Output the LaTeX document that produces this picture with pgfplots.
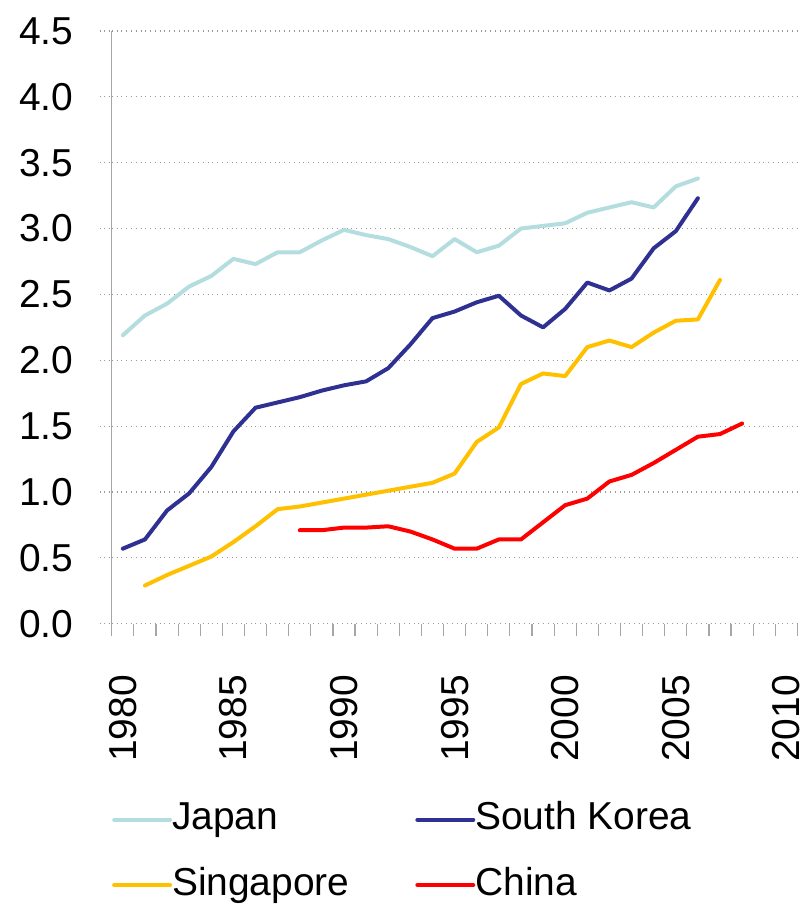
\documentclass[border=0pt]{standalone}
\usepackage{fontspec}
\setmainfont{Liberation Sans}
\usepackage{pgfplots}
\pgfplotsset{compat=1.18}

\definecolor{japan}{HTML}{B4DDE0}
\definecolor{korea}{HTML}{2E3192}
\definecolor{singapore}{HTML}{FFC000}
\definecolor{china}{HTML}{FF0000}

\pgfplotstableread{
year val
1980 2.19
1981 2.34
1982 2.43
1983 2.56
1984 2.64
1985 2.77
1986 2.73
1987 2.82
1988 2.82
1989 2.91
1990 2.99
1991 2.95
1992 2.92
1993 2.86
1994 2.79
1995 2.92
1996 2.82
1997 2.87
1998 3.00
1999 3.02
2000 3.04
2001 3.12
2002 3.16
2003 3.20
2004 3.16
2005 3.32
2006 3.38
}\japan

\pgfplotstableread{
year val
1980 0.57
1981 0.64
1982 0.86
1983 0.99
1984 1.19
1985 1.46
1986 1.64
1987 1.68
1988 1.72
1989 1.77
1990 1.81
1991 1.84
1992 1.94
1993 2.12
1994 2.32
1995 2.37
1996 2.44
1997 2.49
1998 2.34
1999 2.25
2000 2.39
2001 2.59
2002 2.53
2003 2.62
2004 2.85
2005 2.98
2006 3.23
}\korea

\pgfplotstableread{
year val
1981 0.29
1982 0.37
1983 0.44
1984 0.51
1985 0.62
1986 0.74
1987 0.87
1988 0.89
1989 0.92
1990 0.95
1991 0.98
1992 1.01
1993 1.04
1994 1.07
1995 1.14
1996 1.38
1997 1.49
1998 1.82
1999 1.90
2000 1.88
2001 2.10
2002 2.15
2003 2.10
2004 2.21
2005 2.30
2006 2.31
2007 2.61
}\singapore

\pgfplotstableread{
year val
1988 0.71
1989 0.71
1990 0.73
1991 0.73
1992 0.74
1993 0.70
1994 0.64
1995 0.57
1996 0.57
1997 0.64
1998 0.64
1999 0.77
2000 0.90
2001 0.95
2002 1.08
2003 1.13
2004 1.22
2005 1.32
2006 1.42
2007 1.44
2008 1.52
}\china

\begin{document}
\begin{tikzpicture}
\begin{axis}[
    scale only axis,
    width=343.5pt,
    height=297pt,
    xmin=1979.5, xmax=2010.5,
    ymin=0, ymax=4.5,
    axis x line=bottom,
    axis y line=left,
    x axis line style={draw=none},
    y axis line style={-, gray!70, line width=0.6pt},
    xtick={1980,1985,...,2010},
    xticklabels={1980,1985,1990,1995,2000,2005,2010},
    minor xtick={1979.5,1980.5,...,2010.5},
    major x tick style={draw=none},
    minor x tick style={gray!70, line width=0.6pt},
    ytick={0,0.5,...,4.5},
    major y tick style={gray!80, dotted, line width=0.6pt},
    tick align=outside,
    major tick length=6pt,
    minor tick length=6pt,
    ymajorgrids,
    major grid style={gray!80, dotted, line width=0.6pt},
    yticklabel style={/pgf/number format/fixed, /pgf/number format/fixed zerofill,
        /pgf/number format/precision=1, /pgf/number format/assume math mode=true},
    yticklabel style={font=\fontsize{19.5}{23}\selectfont, black,
        anchor=east, inner sep=0pt, xshift=-13pt},
    xticklabel style={font=\fontsize{19.5}{23}\selectfont, black,
        yshift=-19.5pt, rotate=90, anchor=east, inner sep=0pt},
    legend columns=2,
    legend cell align=left,
    legend style={
        draw=none,
        at={(0,0)}, anchor=north west,
        yshift=-88pt,
        font=\fontsize{19.5}{23}\selectfont,
        inner sep=0pt,
        row sep=12.7pt,
        nodes={inner sep=0pt, text height=15pt, text depth=5pt},
        /tikz/every odd column/.style={column sep=0pt},
        /tikz/every even column/.style={column sep=33pt},
    },
    legend image code/.code={\draw[#1] (0pt,0pt) -- (28pt,0pt);},
    every axis plot/.append style={line width=2pt, line join=round, line cap=round},
]
\addplot[japan] table[x=year, y=val] {\japan};
\addplot[korea] table[x=year, y=val] {\korea};
\addplot[singapore] table[x=year, y=val] {\singapore};
\addplot[china] table[x=year, y=val] {\china};
\legend{Japan, South Korea, Singapore, China}
\coordinate (bl) at (rel axis cs:0,0);
\coordinate (tr) at (rel axis cs:1,1);
\end{axis}
\path (bl) ++(-56pt,-140pt);
\path (tr) ++(4pt,15.5pt);
\end{tikzpicture}
\end{document}
